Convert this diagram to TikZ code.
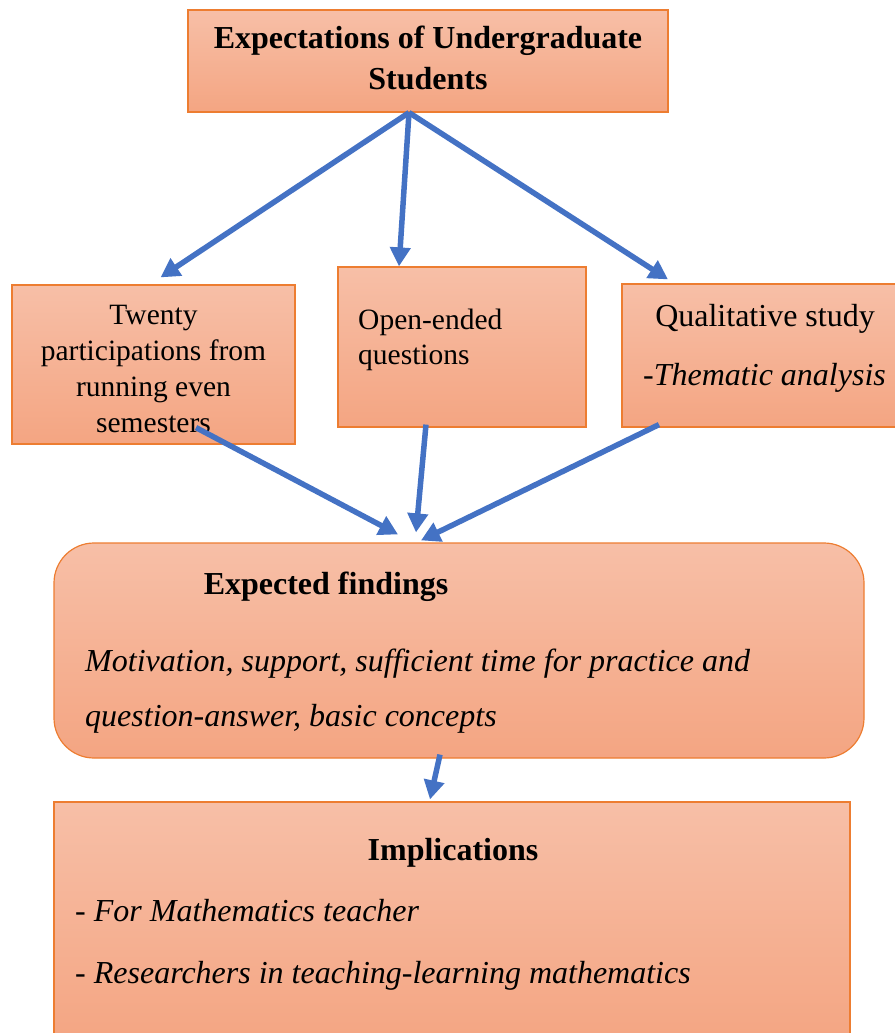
\documentclass[tikz,border=0pt]{standalone}
\usepackage{fontspec}
\setmainfont{Liberation Serif}
\usetikzlibrary{arrows.meta}
\definecolor{boxtop}{HTML}{F7BFA7}
\definecolor{boxbot}{HTML}{F4A582}
\definecolor{boxline}{HTML}{ED7D31}
\definecolor{arr}{HTML}{4472C4}
\tikzset{
 box/.style={draw=boxline, line width=1.2pt, top color=boxtop, bottom color=boxbot, rectangle, inner sep=0pt},
 txt/.style={inner sep=0pt, font=\fontsize{32}{36}\selectfont},
 conn/.style={draw=arr, line width=5.5pt, -{Triangle[length=19pt,width=20pt]}},
}
\begin{document}
\begin{tikzpicture}[x=1pt,y=-1pt]
\useasboundingbox (0,0) rectangle (894,1033);
% boxes
\node[box, minimum width=480pt, minimum height=102pt] (top) at (428,61) {};
\node[box, minimum width=283pt, minimum height=159pt] (b2) at (153.5,364.5) {};
\node[box, minimum width=248pt, minimum height=160pt] (b3) at (462,347) {};
\node[box, minimum width=278pt, minimum height=143pt] (b4) at (761,355.5) {};
\node[box, rounded corners=40pt, minimum width=810pt, minimum height=215pt] (ef) at (459,650.5) {};
\node[box, minimum width=796pt, minimum height=243pt] (im) at (452,923.5) {};
% texts (base = baseline of the last line)
\node[txt, font=\fontsize{32}{41}\selectfont\bfseries, align=center, anchor=base] (t1) at (428,89) {Expectations of Undergraduate\\Students};
\node[txt, font=\fontsize{29.5}{36}\selectfont, align=center, anchor=base] (t2) at (153.5,432) {Twenty\\participations from\\running even\\semesters};
\node[txt, font=\fontsize{29.5}{35}\selectfont, align=left, anchor=base west] (t3) at (358,364) {Open-ended\\questions};
\node[txt, anchor=base] (t4a) at (765,326) {Qualitative study};
\node[txt, anchor=base west] (t4b) at (643,385) {-\textit{Thematic analysis}};
\node[txt, font=\fontsize{32}{36}\selectfont\bfseries, anchor=base] (t5a) at (326,594) {Expected findings};
\node[txt, font=\fontsize{32}{55}\selectfont\itshape, align=left, anchor=base west] (t5b) at (85,726) {Motivation, support, sufficient time for practice and\\question-answer, basic concepts};
\node[txt, font=\fontsize{32}{36}\selectfont\bfseries, anchor=base] (t6a) at (453,860) {Implications};
\node[txt, font=\fontsize{32}{62}\selectfont\itshape, align=left, anchor=base west] (t6b) at (75,983) {- For Mathematics teacher\\- Researchers in teaching-learning mathematics};
% connectors
\coordinate (s) at ([xshift=-19pt]top.south);
\draw[conn] (s) -- ([xshift=7pt,yshift=7pt]b2.north);
\draw[conn] (s) -- ([xshift=-63pt]b3.north);
\draw[conn] (s) -- ([xshift=-93pt,yshift=4pt]b4.north);
\draw[conn] ([xshift=42.5pt,yshift=17pt]b2.south) -- ([xshift=-61pt,yshift=8pt]ef.north);
\draw[conn] ([xshift=-36pt,yshift=3pt]b3.south) -- ([xshift=-43pt,yshift=10pt]ef.north);
\draw[conn] ([xshift=-102pt,yshift=3pt]b4.south) -- ([xshift=-38pt,yshift=2pt]ef.north);
\draw[conn] ([xshift=-19pt,yshift=4pt]ef.south) -- ([xshift=-22pt,yshift=2pt]im.north);
\end{tikzpicture}
\end{document}
